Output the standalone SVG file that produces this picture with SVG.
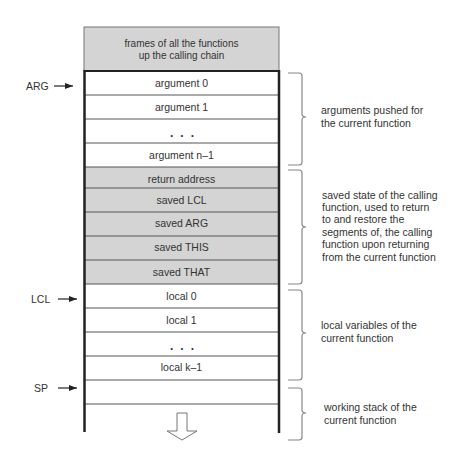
<svg xmlns="http://www.w3.org/2000/svg" width="468" height="463" viewBox="0 0 468 463">
<defs>
<style>
text{font-family:"Liberation Sans",Arial,sans-serif;fill:#333;}
.c{font-size:10.5px;text-anchor:middle;}
.s{font-size:10.5px;}
.top{font-size:10px;text-anchor:middle;}
.dots{font-size:12px;font-weight:bold;text-anchor:middle;letter-spacing:1.9px;}
.g{fill:#d4d4d4;}
.w{fill:#fff;}
.sep{stroke:#555;stroke-width:1.2;fill:none;}
.brace{stroke:#888;stroke-width:1.2;fill:none;}
.ptr{stroke:#222;stroke-width:1.2;fill:none;marker-end:url(#ah);}
</style>
<marker id="ah" viewBox="0 0 8 6" refX="8" refY="3" markerWidth="8" markerHeight="6" markerUnits="userSpaceOnUse" orient="auto">
<path d="M0,0 L8,3 L0,6 Z" fill="#222"/>
</marker>
</defs>
<rect width="468" height="463" fill="#fff"/>

<g id="frames">
<rect x="84" y="27" width="195" height="44" class="g" stroke="#777" stroke-width="1"/>
<text class="top" x="181.5" y="47">frames of all the functions</text>
<text class="top" x="181.5" y="59">up the calling chain</text>
</g>

<g id="arg0"><rect x="84" y="71" width="195" height="24" class="w"/><text class="c" x="181.5" y="87">argument 0</text></g>
<g id="arg1"><rect x="84" y="95" width="195" height="24" class="w"/><text class="c" x="181.5" y="111">argument 1</text></g>
<g id="argdots"><rect x="84" y="119" width="195" height="24" class="w"/><text class="dots" x="183" y="137">. . .</text></g>
<g id="argn"><rect x="84" y="143" width="195" height="24" class="w"/><text class="c" x="181.5" y="159">argument n–1</text></g>
<g id="retaddr"><rect x="84" y="167" width="195" height="21" class="g"/><text class="c" x="181.5" y="183">return address</text></g>
<g id="savedLCL"><rect x="84" y="188" width="195" height="24" class="g"/><text class="c" x="181.5" y="204">saved LCL</text></g>
<g id="savedARG"><rect x="84" y="212" width="195" height="24" class="g"/><text class="c" x="181.5" y="227">saved ARG</text></g>
<g id="savedTHIS"><rect x="84" y="236" width="195" height="24" class="g"/><text class="c" x="181.5" y="251">saved THIS</text></g>
<g id="savedTHAT"><rect x="84" y="260" width="195" height="24" class="g"/><text class="c" x="181.5" y="276">saved THAT</text></g>
<g id="local0"><rect x="84" y="284" width="195" height="24" class="w"/><text class="c" x="181.5" y="300">local 0</text></g>
<g id="local1"><rect x="84" y="308" width="195" height="24" class="w"/><text class="c" x="181.5" y="324">local 1</text></g>
<g id="localdots"><rect x="84" y="332" width="195" height="24" class="w"/><text class="dots" x="183" y="350">. . .</text></g>
<g id="localk"><rect x="84" y="356" width="195" height="24" class="w"/><text class="c" x="181.5" y="371">local k–1</text></g>
<g id="sprow"><rect x="84" y="380" width="195" height="24" class="w"/></g>

<g id="separators">
<path class="sep" d="M84,95H279M84,119H279M84,143H279M84,167H279M84,188H279M84,212H279M84,236H279M84,260H279M84,284H279M84,308H279M84,332H279M84,356H279M84,380H279M84,404H279"/>
</g>

<g id="stack-border">
<path d="M84,71H279" stroke="#222" stroke-width="2.2" fill="none"/>
<path d="M84.5,70V432" stroke="#222" stroke-width="2.5" fill="none"/>
<path d="M279,70V433" stroke="#222" stroke-width="2.5" fill="none"/>
</g>

<g id="grow-arrow">
<polygon points="177,413 187,413 187,431 197,431 182,440 167,431 177,431" fill="#fff" stroke="#777" stroke-width="1"/>
</g>

<g id="pointers">
<text class="s" x="26" y="90">ARG</text>
<text class="s" x="31" y="303">LCL</text>
<text class="s" x="34" y="392">SP</text>
</g>

<g id="connectors">
<path class="ptr" d="M54,86H73"/>
<path class="ptr" d="M58,299H77"/>
<path class="ptr" d="M58,388H77"/>
</g>

<g id="braces">
<path class="brace" d="M288,73H299Q302,73 302,76V114Q302,117 306,117Q302,117 302,120V162Q302,165 299,165H288"/>
<path class="brace" d="M288,170H299Q302,170 302,173V224Q302,227 306,227Q302,227 302,230V281Q302,284 299,284H288"/>
<path class="brace" d="M288,290H299Q302,290 302,293V330Q302,333 306,333Q302,333 302,336V377Q302,380 299,380H288"/>
<path class="brace" d="M288,388H299Q302,388 302,391V410Q302,413 306,413Q302,413 302,416V437Q302,440 299,440H288"/>
</g>

<g id="notes">
<text class="s" x="321" y="114">arguments pushed  for</text>
<text class="s" x="321" y="127">the current function</text>
<text class="s" x="322" y="199">saved state of the calling</text>
<text class="s" x="322" y="211">function, used to return</text>
<text class="s" x="322" y="223">to and restore the</text>
<text class="s" x="322" y="236">segments of, the calling</text>
<text class="s" x="322" y="248">function upon returning</text>
<text class="s" x="322" y="261">from the current function</text>
<text class="s" x="321" y="329">local variables of the</text>
<text class="s" x="321" y="342">current function</text>
<text class="s" x="324" y="411">working stack of the</text>
<text class="s" x="324" y="424">current function</text>
</g>
</svg>
